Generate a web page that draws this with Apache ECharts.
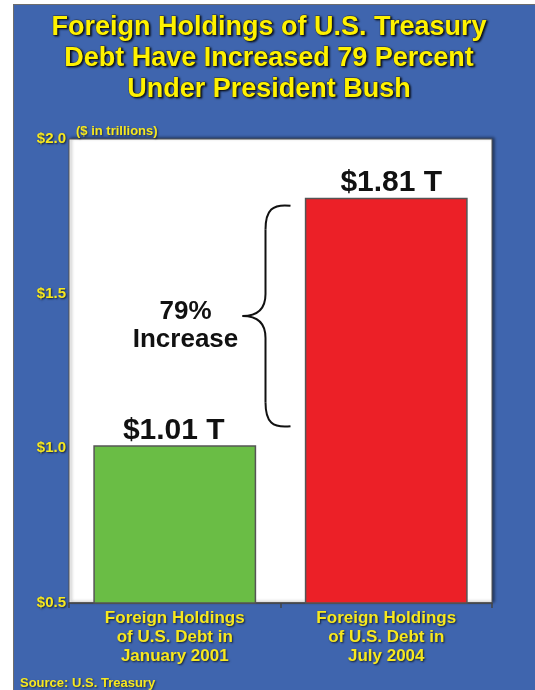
<!DOCTYPE html>
<html>
<head>
<meta charset="utf-8">
<script src="https://cdn.jsdelivr.net/npm/echarts@6/dist/echarts.min.js"></script>
<style>
html,body{margin:0;padding:0;width:535px;height:690px;background:#ffffff;overflow:hidden;}
#frame{position:absolute;left:13px;top:4px;width:522px;height:686px;background:#3f65ae;border-left:1px solid #6d6d6d;border-top:1px solid #6d6d6d;}
#chart{position:absolute;left:0;top:0;width:535px;height:690px;}
</style>
</head>
<body>
<div id="frame"></div>
<div id="chart"></div>
<script>
const titleLines = ['Foreign Holdings of U.S. Treasury', 'Debt Have Increased 79 Percent', 'Under President Bush'];
const categories = ['Foreign Holdings\nof U.S. Debt in\nJanuary 2001', 'Foreign Holdings\nof U.S. Debt in\nJuly 2004'];
const values = [1.01, 1.81];
const barColors = ['#6abd45', '#ec2027'];
const yTicks = [0.5, 1.0, 1.5, 2.0];
const unitLabel = '($ in trillions)';
const annotationText = '79%\nIncrease';
const sourceText = 'Source: U.S. Treasury';

const YEL = '#f7e81e';
const FONT = '"Liberation Sans", Arial, sans-serif';
const labelOffsets = [[-1, 0], [5, 0]];

const chart = echarts.init(document.getElementById('chart'), null, {renderer: 'canvas'});

const option = {
  backgroundColor: 'transparent',
  animation: false,
  title: {
    text: titleLines.join('\n'),
    left: 264,
    top: 7,
    textAlign: 'center',
    textStyle: {
      color: '#fff200', fontSize: 27, fontWeight: 'bold', fontFamily: FONT, lineHeight: 31,
      textShadowColor: 'rgba(0,0,0,0.85)', textShadowBlur: 2, textShadowOffsetX: 1.5, textShadowOffsetY: 1.5,
      textBorderColor: 'rgba(40,40,40,0.7)', textBorderWidth: 0.8
    }
  },
  grid: {
    left: 69, top: 139, right: 43, bottom: 87,
    show: true, backgroundColor: '#ffffff', borderColor: '#555555', borderWidth: 1,
    shadowColor: 'rgba(0,0,0,0.45)', shadowBlur: 3, shadowOffsetX: 2, shadowOffsetY: -1
  },
  xAxis: {
    type: 'category',
    data: categories,
    axisLine: {show: true, lineStyle: {color: '#444444', width: 1.5}},
    axisTick: {show: true, length: 5, alignWithLabel: false, lineStyle: {color: '#444444', width: 1.5}},
    axisLabel: {
      color: YEL, fontSize: 17, fontWeight: 'bold', fontFamily: FONT, lineHeight: 19, margin: 6,
      textShadowColor: 'rgba(0,0,0,0.7)', textShadowBlur: 2, textShadowOffsetX: 1, textShadowOffsetY: 1
    },
    splitLine: {show: false}
  },
  yAxis: {
    type: 'value',
    min: yTicks[0], max: yTicks[yTicks.length - 1], interval: 0.5,
    name: unitLabel,
    nameLocation: 'end',
    nameGap: 1,
    nameTextStyle: {
      color: YEL, fontSize: 13, fontWeight: 'bold', fontFamily: FONT, align: 'left', padding: [0, 0, 0, 7],
      textShadowColor: 'rgba(0,0,0,0.6)', textShadowBlur: 2, textShadowOffsetX: 1, textShadowOffsetY: 1
    },
    axisLine: {show: false},
    axisTick: {show: false},
    splitLine: {show: false},
    axisLabel: {
      color: YEL, fontSize: 15, fontWeight: 'bold', fontFamily: FONT, margin: 3,
      formatter: v => '$' + v.toFixed(1),
      textShadowColor: 'rgba(0,0,0,0.7)', textShadowBlur: 2, textShadowOffsetX: 1, textShadowOffsetY: 1
    }
  },
  series: [{
    type: 'bar',
    barWidth: '77%',
    data: values.map((v, i) => ({value: v, itemStyle: {color: barColors[i]}, label: {offset: labelOffsets[i]}})),
    itemStyle: {borderColor: '#555555', borderWidth: 1.5},
    label: {
      show: true, position: 'top', distance: 0,
      formatter: p => '$' + p.value.toFixed(2) + ' T',
      color: '#111111', fontSize: 30, fontWeight: 'bold', fontFamily: FONT
    }
  }]
};
chart.setOption(option);

// Brace and annotation, positioned from the data through the chart's scales
const pTop = chart.convertToPixel({gridIndex: 0}, [1, values[1]]);
const pBot = chart.convertToPixel({gridIndex: 0}, [0, values[0]]);
const xb = (pBot[0] + pTop[0]) / 2;
const yTop = pTop[1] + 8;
const yBot = pBot[1] - 19;
const yMid = (yTop + yBot) / 2;
const xv = xb - 15, xt = xb - 38, xe = xb + 10;
const braceStyle = {stroke: '#111111', lineWidth: 2, fill: null};

chart.setOption({
  graphic: [
    {type: 'bezierCurve', shape: {x1: xe, y1: yTop, cpx1: xb - 8, cpy1: yTop - 2, cpx2: xv, cpy2: yTop + 4, x2: xv, y2: yTop + 24}, style: braceStyle, z: 100},
    {type: 'line', shape: {x1: xv, y1: yTop + 24, x2: xv, y2: yMid - 22}, style: braceStyle, z: 100},
    {type: 'bezierCurve', shape: {x1: xv, y1: yMid - 22, cpx1: xv, cpy1: yMid - 6, cpx2: xb - 24, cpy2: yMid, x2: xt, y2: yMid}, style: braceStyle, z: 100},
    {type: 'bezierCurve', shape: {x1: xt, y1: yMid, cpx1: xb - 24, cpy1: yMid, cpx2: xv, cpy2: yMid + 6, x2: xv, y2: yMid + 22}, style: braceStyle, z: 100},
    {type: 'line', shape: {x1: xv, y1: yMid + 22, x2: xv, y2: yBot - 24}, style: braceStyle, z: 100},
    {type: 'bezierCurve', shape: {x1: xv, y1: yBot - 24, cpx1: xv, cpy1: yBot - 4, cpx2: xb - 8, cpy2: yBot + 2, x2: xe, y2: yBot}, style: braceStyle, z: 100},
    {type: 'text', x: xb - 95, y: yMid + 10, style: {
      text: annotationText, fill: '#111111', font: 'bold 26px ' + FONT, lineHeight: 28,
      align: 'center', verticalAlign: 'middle'
    }, z: 100},
    {type: 'text', x: 20, y: 683, style: {
      text: sourceText, fill: YEL, font: 'bold 13px ' + FONT, verticalAlign: 'middle',
      textShadowColor: 'rgba(0,0,0,0.6)', textShadowBlur: 2, textShadowOffsetX: 1, textShadowOffsetY: 1
    }, z: 100}
  ]
});
</script>
</body>
</html>
